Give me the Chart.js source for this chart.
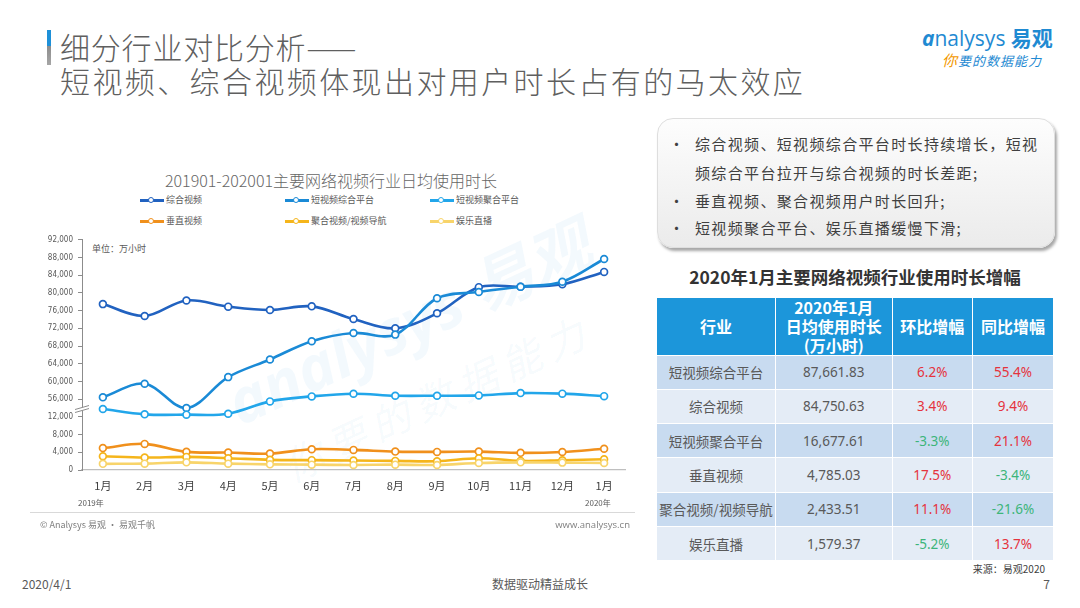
<!DOCTYPE html>
<html><head><meta charset="utf-8">
<script src="https://cdn.jsdelivr.net/npm/chart.js"></script>
<style>
html,body{margin:0;padding:0;background:#fff;}
body{width:1080px;height:608px;position:relative;overflow:hidden;font-family:"Noto Sans CJK SC","Noto Sans",sans-serif;color:#595959;}
.abs{position:absolute;white-space:nowrap;}
.leg{position:absolute;height:14px;line-height:14px;font-size:9px;color:#595959;white-space:nowrap;}
.leg .s{position:absolute;left:0;top:2px;width:24px;height:10px;}
.leg .s i{position:absolute;left:0;top:4px;width:24px;height:2.5px;}
.leg .s b{position:absolute;left:8px;top:1.5px;width:4px;height:4px;border:1.6px solid;border-radius:50%;background:#fff;}
.leg span{position:absolute;left:26px;top:0;}
.bl{position:absolute;font-size:15px;letter-spacing:1.35px;color:#404040;height:20px;line-height:20px;white-space:nowrap;}
table{position:absolute;left:656px;top:296.5px;border-collapse:collapse;table-layout:fixed;}
td,th{border:1.5px solid #fff;text-align:center;padding:0;white-space:nowrap;}
th{background:#1C96DA;color:#fff;font-weight:bold;font-size:16px;line-height:19px;height:52px;}
td{height:33.3px;font-size:13.5px;color:#595959;}
td.n{font-family:"Noto Sans","Open Sans",sans-serif;}
tr.o td{background:#C8DBF0;}
tr.e td{background:#E4ECF6;}
.up{color:#E5333D;}
.dn{color:#3DB57A;}
</style>
</head>
<body>
<!-- title -->
<div class="abs" style="left:47px;top:30px;width:4px;height:35px;background:linear-gradient(#1E90D8 0,#1E90D8 45%,#8c8c8c 45%,#a6a6a6 100%);"></div>
<div class="abs" style="left:60px;top:29px;font-size:30px;line-height:34px;color:#5f5f5f;font-weight:300;letter-spacing:0.8px;">细分行业对比分析——</div>
<div class="abs" style="left:60px;top:63px;font-size:30px;line-height:34px;color:#5f5f5f;font-weight:300;letter-spacing:2.4px;">短视频、综合视频体现出对用户时长占有的马太效应</div>
<!-- logo -->
<div class="abs" style="left:922px;top:24px;font-size:21px;line-height:26px;color:#1F8AD2;font-family:'Open Sans','Noto Sans',sans-serif;"><span style="font-style:italic;font-weight:bold;">a</span>nalysys <b style="font-family:'Noto Sans CJK SC';">易观</b></div>
<div class="abs" style="left:942px;top:51px;font-size:13px;line-height:18px;color:#1F8AD2;font-style:italic;letter-spacing:1px;"><span style="color:#F39800;font-size:15px;">你</span>要的数据能力</div>

<!-- watermark -->
<div class="abs" style="left:215px;top:372px;transform:rotate(-25deg);transform-origin:left top;color:rgba(30,144,220,0.055);font-size:62px;line-height:66px;font-style:italic;font-weight:bold;font-family:'Open Sans',sans-serif;">analysys <span style="font-family:'Noto Sans CJK SC'">易观</span></div>
<div class="abs" style="left:275px;top:448px;transform:rotate(-25deg);transform-origin:left top;color:rgba(30,144,220,0.05);font-size:40px;line-height:44px;font-style:italic;letter-spacing:8px;">你要的数据能力</div>

<!-- chart title & legend -->
<div class="abs" style="left:131px;top:170px;width:400px;text-align:center;font-size:16px;line-height:20px;color:#666;font-weight:300;">201901-202001主要网络视频行业日均使用时长</div>
<div id="legend"></div>
<div class="abs" style="left:92px;top:242px;font-size:9px;line-height:14px;color:#595959;">单位：万小时</div>

<div style="position:absolute;left:0;top:230px;width:640px;height:270px;">
<canvas id="c"></canvas>
</div>

<div class="abs" style="left:78px;top:497px;font-size:8px;line-height:12px;color:#595959;">2019年</div>
<div class="abs" style="left:585px;top:497px;font-size:8px;line-height:12px;color:#595959;">2020年</div>
<div class="abs" style="left:30px;top:512px;width:605px;height:1px;background:#d9d9d9;"></div>
<div class="abs" style="left:40px;top:518px;font-size:9px;line-height:14px;color:#808080;">© Analysys 易观 · 易观千帆</div>
<div class="abs" style="right:450px;top:518px;font-size:9.5px;line-height:14px;color:#808080;font-family:'Open Sans',sans-serif;">www.analysys.cn</div>

<!-- bullet box -->
<div class="abs" style="left:657px;top:118px;width:396px;height:128px;border-radius:16px;background:linear-gradient(#fdfdfd,#ebebeb);border:1px solid #dedede;box-shadow:2px 3px 3px rgba(0,0,0,0.35);"></div>
<div class="bl" style="left:669px;top:134px;">•</div>
<div class="bl" style="left:695px;top:134px;">综合视频、短视频综合平台时长持续增长，短视</div>
<div class="bl" style="left:695px;top:163px;">频综合平台拉开与综合视频的时长差距;</div>
<div class="bl" style="left:669px;top:191px;">•</div>
<div class="bl" style="left:695px;top:191px;">垂直视频、聚合视频用户时长回升;</div>
<div class="bl" style="left:669px;top:218px;">•</div>
<div class="bl" style="left:695px;top:218px;">短视频聚合平台、娱乐直播缓慢下滑;</div>

<div class="abs" style="left:656px;top:265px;width:398px;text-align:center;font-size:17.5px;line-height:24px;font-weight:bold;color:#333;">2020年1月主要网络视频行业使用时长增幅</div>
<table id="tbl">
<colgroup><col style="width:119px"><col style="width:116.5px"><col style="width:80.5px"><col style="width:81px"></colgroup>
<thead><tr><th>行业</th><th>2020年1月<br>日均使用时长<br>(万小时)</th><th>环比增幅</th><th>同比增幅</th></tr></thead>
<tbody id="tb"></tbody>
</table>
<div class="abs" style="right:35px;top:562px;font-size:10px;line-height:14px;color:#404040;">来源：易观2020</div>

<!-- footer -->
<div class="abs" style="left:22px;top:576px;font-size:12px;line-height:16px;color:#595959;">2020/4/1</div>
<div class="abs" style="left:440px;top:576px;width:200px;text-align:center;font-size:12px;line-height:16px;color:#595959;">数据驱动精益成长</div>
<div class="abs" style="right:30px;top:576px;font-size:12px;line-height:16px;color:#595959;">7</div>

<script>
// ---------- data ----------
const months = ['1月','2月','3月','4月','5月','6月','7月','8月','9月','10月','11月','12月','1月'];
const seriesNames = ['综合视频','短视频综合平台','短视频聚合平台','垂直视频','聚合视频/视频导航','娱乐直播'];
const seriesColors = ['#2162C0','#1A8AD6','#22A6EA','#F0901C','#F5B51B','#F8D46A'];
// 日均使用时长（万小时）
const zongheShipin   = [77470, 74800, 78300, 76900, 76150, 76970, 74100, 72000, 75400, 81300, 81400, 81960, 84750.63];
const duanZonghe     = [56410, 59490, 54000, 60980, 64970, 69100, 70960, 70580, 78800, 80200, 81400, 82540, 87661.83];
const duanJuhe       = [13770, 12570, 12500, 12720, 15500, 16630, 17240, 16780, 16780, 16850, 17370, 17250, 16677.61];
const chuizhiShipin  = [4950, 5900, 4100, 3940, 3710, 4700, 4540, 4160, 4090, 4160, 3870, 4072, 4785.03];
const juheDaohang    = [3104, 2810, 2960, 2670, 2290, 2220, 2130, 2060, 1990, 2670, 2060, 2190, 2433.51];
const yuleZhibo      = [1389, 1440, 1730, 1440, 1280, 1210, 1140, 1210, 1140, 1590, 1730, 1666, 1579.37];
// broken axis: lower segment 0–12,000 shown as is; upper segment (56,000+) shifted down
const BREAK_SHIFT = 40000;
const LOWER_TOP = 12000;
const yTickStep = 4000;
const yMaxShown = 92000;
// table
const tblNames = ['短视频综合平台','综合视频','短视频聚合平台','垂直视频','聚合视频/视频导航','娱乐直播'];
const tblValues = ['87,661.83','84,750.63','16,677.61','4,785.03','2,433.51','1,579.37'];
const tblMoM = ['6.2%','3.4%','-3.3%','17.5%','11.1%','-5.2%'];
const tblYoY = ['55.4%','9.4%','21.1%','-3.4%','-21.6%','13.7%'];

// ---------- table ----------
const tb = document.getElementById('tb');
tblNames.forEach((n,i)=>{
  const tr = document.createElement('tr');
  tr.className = i%2===0 ? 'o' : 'e';
  const cls = v => v.startsWith('-') ? 'dn' : 'up';
  tr.innerHTML = `<td>${n}</td><td class="n">${tblValues[i]}</td><td class="n ${cls(tblMoM[i])}">${tblMoM[i]}</td><td class="n ${cls(tblYoY[i])}">${tblYoY[i]}</td>`;
  tb.appendChild(tr);
});

// ---------- legend ----------
const legPos = [[140,193],[285,193],[430,193],[140,214],[285,214],[430,214]];
const lg = document.getElementById('legend');
seriesNames.forEach((n,i)=>{
  const d = document.createElement('div');
  d.className='leg';
  d.style.left = legPos[i][0]+'px'; d.style.top = legPos[i][1]+'px';
  d.innerHTML = `<div class="s"><i style="background:${seriesColors[i]}"></i><b style="border-color:${seriesColors[i]}"></b></div><span>${n}</span>`;
  lg.appendChild(d);
});

// ---------- chart ----------
const shiftUp = arr => arr.map(v => v - BREAK_SHIFT);
const plotted = [shiftUp(zongheShipin), shiftUp(duanZonghe), duanJuhe, chuizhiShipin, juheDaohang, yuleZhibo];

const datasets = seriesNames.map((n,i)=>({
  label:n, data:plotted[i], borderColor:seriesColors[i], backgroundColor:'#fff',
  borderWidth:2.6, tension:0.35, clip:false,
  pointRadius:3.4, pointBorderWidth:1.7, pointBackgroundColor:'#fff', pointBorderColor:seriesColors[i],
  order: 6-i
}));

const axisBreak = {
  id:'axisBreak',
  afterDraw(chart){
    const ys = chart.scales.y;
    const py = ys.getPixelForValue((LOWER_TOP + LOWER_TOP + yTickStep)/2);
    const px = chart.chartArea.left;
    const ctx = chart.ctx;
    ctx.save();
    ctx.fillStyle = '#fff';
    ctx.beginPath();
    ctx.moveTo(px-7, py+1.5); ctx.lineTo(px+7, py-2.5);
    ctx.lineTo(px+7, py+0.5); ctx.lineTo(px-7, py+4.5); ctx.closePath();
    ctx.fill();
    ctx.strokeStyle = '#8c8c8c'; ctx.lineWidth = 1;
    ctx.beginPath();
    ctx.moveTo(px-7, py+1.5); ctx.lineTo(px+7, py-2.5);
    ctx.moveTo(px-7, py+4.5); ctx.lineTo(px+7, py+0.5);
    ctx.stroke();
    ctx.restore();
  }
};

new Chart(document.getElementById('c'), {
  type:'line',
  data:{labels:months, datasets},
  plugins:[axisBreak],
  options:{
    responsive:true, maintainAspectRatio:false, animation:false,
    layout:{padding:{top:9,right:15,left:0,bottom:0}},
    plugins:{legend:{display:false}, title:{display:false}, tooltip:{enabled:false}},
    scales:{
      x:{
        offset:true,
        grid:{display:false, drawTicks:false},
        border:{display:true, color:'#bfbfbf', width:1.2},
        ticks:{padding:9, color:'#404040', font:{size:11, family:'Noto Sans CJK SC'}, maxRotation:0, autoSkip:false},
        afterFit(s){ s.height = 30; }
      },
      y:{
        min:0, max:yMaxShown - BREAK_SHIFT,
        grid:{drawOnChartArea:false, drawTicks:true, tickLength:4, color:'#8c8c8c'},
        border:{display:true, color:'#8c8c8c', width:1},
        ticks:{stepSize:yTickStep, padding:5, color:'#595959', font:{size:8, family:'DejaVu Sans Condensed, Liberation Sans Narrow, sans-serif'},
          callback:v => (v <= LOWER_TOP ? v : v + BREAK_SHIFT).toLocaleString('en-US')},
        afterFit(s){ s.width = 82; }
      }
    }
  }
});
</script>
</body></html>
